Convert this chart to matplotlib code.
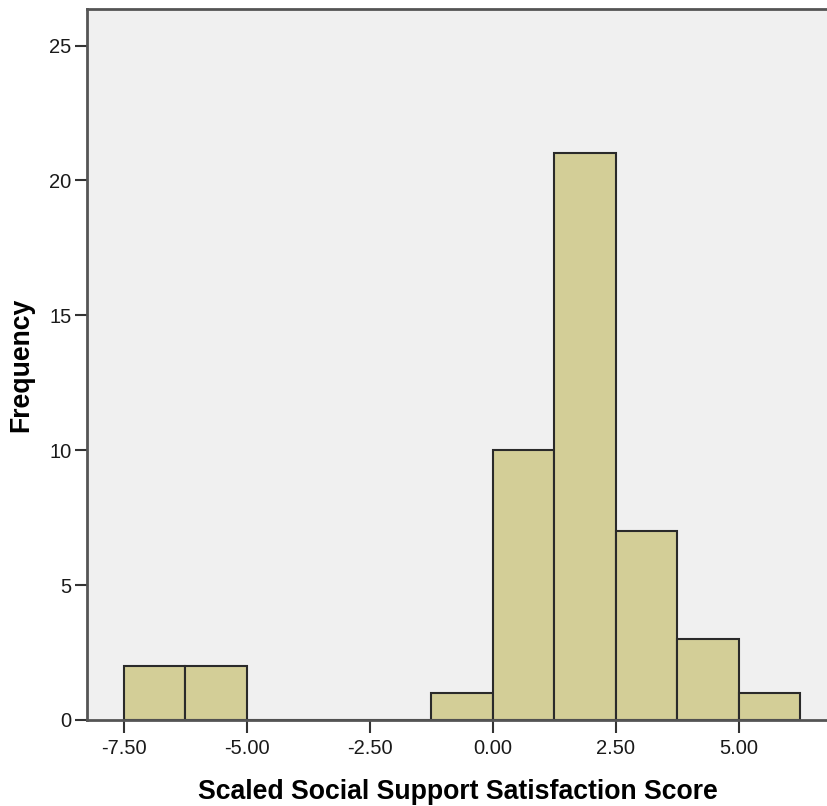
import numpy as np
import matplotlib.pyplot as plt

# histogram bins (width 1.25) and counts
bin_edges = [-7.5, -6.25, -5.0, -3.75, -2.5, -1.25, 0.0, 1.25, 2.5, 3.75, 5.0, 6.25]
counts = [2, 2, 0, 0, 0, 1, 10, 21, 7, 3, 1]
x_ticks = [-7.5, -5.0, -2.5, 0.0, 2.5, 5.0]
y_ticks = [0, 5, 10, 15, 20, 25]

plt.rcParams['font.family'] = ['Liberation Sans', 'DejaVu Sans']

fig = plt.figure(figsize=(8.28, 8.06), dpi=100)
ax = fig.add_axes([0.105, 0.1067, 0.897, 0.882])
ax.set_facecolor('#f0f0f0')

edges = np.array(bin_edges)
ax.bar(edges[:-1], counts, width=np.diff(edges), align='edge',
       color='#d3ce97', edgecolor='#2a2a2a', linewidth=1.5, zorder=2)

ax.set_xlim(-8.25, 6.85)
ax.set_ylim(0, 26.35)
ax.set_xticks(x_ticks)
ax.set_xticklabels(['%.2f' % t for t in x_ticks])
ax.set_yticks(y_ticks)
ax.tick_params(direction='out', length=9, width=1.5, color='#333333',
               labelsize=14.5, labelcolor='#1a1a1a')
ax.tick_params(axis='x', pad=5)
ax.tick_params(axis='y', pad=2)

for s in ['left', 'top', 'bottom']:
    ax.spines[s].set_color('#555555')
    ax.spines[s].set_linewidth(2)
ax.spines['right'].set_visible(False)

ax.set_xlabel('Scaled Social Support Satisfaction Score', fontsize=19.2,
              fontweight='bold', labelpad=15)
ax.set_ylabel('Frequency', fontsize=19.2, fontweight='bold', labelpad=11)

plt.savefig('out.png', dpi=100)
